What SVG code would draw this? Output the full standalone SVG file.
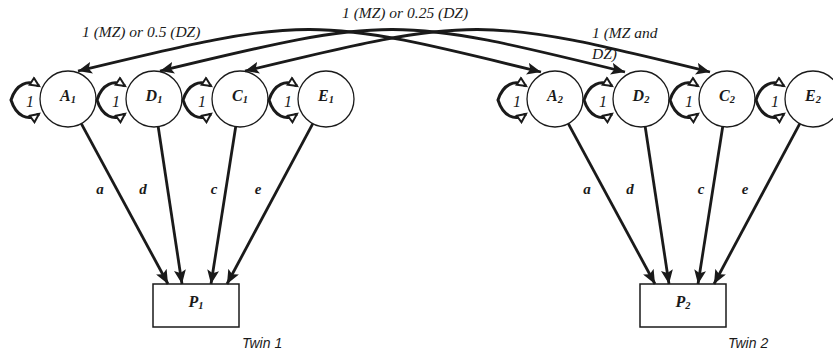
<svg xmlns="http://www.w3.org/2000/svg" width="833" height="351" viewBox="0 0 833 351">
<style>
.node{fill:#fff;stroke:#1a1a1a;stroke-width:1.3}
.box{fill:#fff;stroke:#1a1a1a;stroke-width:1.5}
.lbl{font-family:"Liberation Serif","Times New Roman","DejaVu Serif",serif;font-style:italic;font-weight:bold;font-size:16px;fill:#1a1a1a;text-anchor:middle}
.sub{font-size:10.5px}
.path{fill:none;stroke:#1a1a1a;stroke-width:2.8;marker-end:url(#ah)}
.cov{fill:none;stroke:#1a1a1a;stroke-width:2.8;marker-start:url(#ah);marker-end:url(#ah)}
.loop{fill:none;stroke:#1a1a1a;stroke-width:3;marker-start:url(#lh);marker-end:url(#lh)}
.it{font-family:"Liberation Serif","Times New Roman","DejaVu Serif",serif;font-style:italic;font-size:15.5px;fill:#1a1a1a}
.one{font-family:"Liberation Serif","Times New Roman","DejaVu Serif",serif;font-style:italic;font-size:16px;fill:#1a1a1a;text-anchor:middle}
.coef{font-family:"Liberation Serif","Times New Roman","DejaVu Serif",serif;font-style:italic;font-weight:bold;font-size:15px;fill:#1a1a1a;text-anchor:middle}
.twin{font-family:"Liberation Sans",Arial,sans-serif;font-style:italic;font-size:14px;fill:#1a1a1a}
</style>
<defs>
<marker id="ah" markerUnits="userSpaceOnUse" markerWidth="16" markerHeight="12" refX="14" refY="6" orient="auto-start-reverse" viewBox="0 0 16 12">
<path d="M0,0 L14,6 L0,12 L3,6 z" fill="#1a1a1a"/>
</marker>
<marker id="lh" markerUnits="userSpaceOnUse" markerWidth="13" markerHeight="11" refX="10" refY="5.5" orient="auto-start-reverse" viewBox="0 0 13 11">
<path d="M1.5,1.5 L10,5.5 L1.5,9.5 z" fill="#fff" stroke="#1a1a1a" stroke-width="2" stroke-linejoin="miter"/>
</marker>
</defs>

<g id="nodes">
<g id="A1"><circle class="node" cx="68" cy="99" r="28"/><text class="lbl" x="68" y="101">A<tspan class="sub" dy="2">1</tspan></text></g>
<g id="D1"><circle class="node" cx="154" cy="99" r="28"/><text class="lbl" x="154" y="101">D<tspan class="sub" dy="2">1</tspan></text></g>
<g id="C1"><circle class="node" cx="240" cy="99" r="28"/><text class="lbl" x="240" y="101">C<tspan class="sub" dy="2">1</tspan></text></g>
<g id="E1"><circle class="node" cx="326" cy="99" r="28"/><text class="lbl" x="326" y="101">E<tspan class="sub" dy="2">1</tspan></text></g>
<g id="A2"><circle class="node" cx="555" cy="99" r="28"/><text class="lbl" x="555" y="101">A<tspan class="sub" dy="2">2</tspan></text></g>
<g id="D2"><circle class="node" cx="641" cy="99" r="28"/><text class="lbl" x="641" y="101">D<tspan class="sub" dy="2">2</tspan></text></g>
<g id="C2"><circle class="node" cx="727" cy="99" r="28"/><text class="lbl" x="727" y="101">C<tspan class="sub" dy="2">2</tspan></text></g>
<g id="E2"><circle class="node" cx="813" cy="99" r="28"/><text class="lbl" x="813" y="101">E<tspan class="sub" dy="2">2</tspan></text></g>
<g id="P1"><rect class="box" x="153" y="284" width="86" height="43"/><text class="lbl" x="196" y="307">P<tspan class="sub" dy="2">1</tspan></text></g>
<g id="P2"><rect class="box" x="640" y="284" width="86" height="43"/><text class="lbl" x="683" y="307">P<tspan class="sub" dy="2">2</tspan></text></g>
</g>

<g id="connectors">
<line class="path" x1="81.3" y1="123.6" x2="168" y2="284"/>
<line class="path" x1="158.2" y1="126.7" x2="182" y2="284"/>
<line class="path" x1="235.7" y1="126.7" x2="211" y2="284"/>
<line class="path" x1="312.8" y1="123.7" x2="227" y2="284"/>
<line class="path" x1="568.3" y1="123.6" x2="655" y2="284"/>
<line class="path" x1="645.2" y1="126.7" x2="669" y2="284"/>
<line class="path" x1="722.7" y1="126.7" x2="698" y2="284"/>
<line class="path" x1="799.8" y1="123.7" x2="714" y2="284"/>
<path class="cov" d="M78,71 C308,15.5 311,15.5 541,72"/>
<path class="cov" d="M160,71 C390,15.5 395,15.5 625,72"/>
<path class="cov" d="M245,71 C475,15.5 480,15.5 710,72"/>
<path class="loop" d="M39,86 C28,79 16,84 11,100 C16,116 28,122 39,114"/>
<path class="loop" d="M125,86 C114,79 102,84 97,100 C102,116 114,122 125,114"/>
<path class="loop" d="M211,86 C200,79 188,84 183,100 C188,116 200,122 211,114"/>
<path class="loop" d="M297,86 C286,79 274,84 269,100 C274,116 286,122 297,114"/>
<path class="loop" d="M526,86 C515,79 503,84 498,100 C503,116 515,122 526,114"/>
<path class="loop" d="M612,86 C601,79 589,84 584,100 C589,116 601,122 612,114"/>
<path class="loop" d="M698,86 C687,79 675,84 670,100 C675,116 687,122 698,114"/>
<path class="loop" d="M784,86 C773,79 761,84 756,100 C761,116 773,122 784,114"/>
</g>

<g id="labels">
<text class="one" x="30" y="107">1</text>
<text class="one" x="116" y="107">1</text>
<text class="one" x="202" y="107">1</text>
<text class="one" x="288" y="107">1</text>
<text class="one" x="517" y="107">1</text>
<text class="one" x="603" y="107">1</text>
<text class="one" x="689" y="107">1</text>
<text class="one" x="775" y="107">1</text>
<text class="coef" x="100" y="194">a</text>
<text class="coef" x="143" y="194">d</text>
<text class="coef" x="214" y="194">c</text>
<text class="coef" x="258" y="194">e</text>
<text class="coef" x="587" y="194">a</text>
<text class="coef" x="630" y="194">d</text>
<text class="coef" x="701" y="194">c</text>
<text class="coef" x="745" y="194">e</text>
<text class="it" x="82" y="37">1 (MZ) or 0.5 (DZ)</text>
<text class="it" x="342" y="18">1 (MZ) or 0.25 (DZ)</text>
<text class="it" x="592" y="38">1 (MZ and</text>
<text class="it" x="592" y="59">DZ)</text>
<text class="twin" x="242" y="348">Twin 1</text>
<text class="twin" x="728" y="348">Twin 2</text>
</g>
</svg>
